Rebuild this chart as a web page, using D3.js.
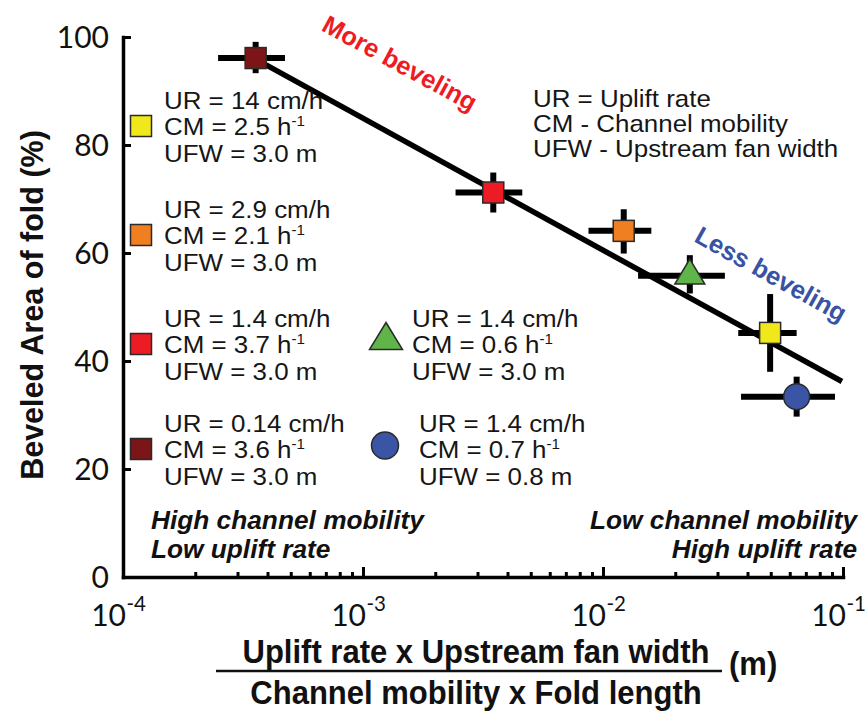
<!DOCTYPE html>
<html>
<head>
<meta charset="utf-8">
<script src="https://cdn.jsdelivr.net/npm/d3@7"></script>
<style>
  html, body { margin: 0; padding: 0; background: #ffffff; }
  svg { display: block; }
</style>
</head>
<body>
<svg id="chart" width="866" height="711"></svg>
<script>
// Beveled area of the fold against (uplift rate x fan width) / (channel mobility x fold length)

// One experiment per entry, ordered along the x axis
const ratio       = [3.57e-4, 3.49e-3, 1.22e-2, 2.30e-2, 4.97e-2, 6.41e-2];
const ratioLow    = [2.49e-4, 2.43e-3, 8.70e-3, 1.40e-2, 3.66e-2, 3.76e-2];
const ratioHigh   = [4.73e-4, 4.61e-3, 1.59e-2, 3.22e-2, 6.41e-2, 9.26e-2];
const beveled     = [96.1, 71.2, 64.1, 55.8, 45.2, 33.4];
const beveledLow  = [93.3, 67.5, 59.9, 52.5, 38.0, 29.7];
const beveledHigh = [99.1, 74.9, 68.1, 59.6, 52.4, 37.1];
const runColors   = ["#7b1517", "#ed1c24", "#f07f22", "#5fb548", "#f1e81c", "#3b55a6"];
const runShapes   = ["square", "square", "square", "triangle", "square", "circle"];

// Best-fit line end points
const fitRatio   = [3.6e-4, 0.099];
const fitBeveled = [95.8, 36.2];

// Axis ticks
const yTicks     = [0, 20, 40, 60, 80, 100];
const xDecades   = [1e-4, 1e-3, 1e-2, 1e-1];
const xDecadeExp = ["-4", "-3", "-2", "-1"];

// Key entries
const legendUR     = ["UR = 14 cm/h", "UR = 2.9 cm/h", "UR = 1.4 cm/h", "UR = 0.14 cm/h", "UR = 1.4 cm/h", "UR = 1.4 cm/h"];
const legendCM     = ["CM = 2.5 h", "CM = 2.1 h", "CM = 3.7 h", "CM = 3.6 h", "CM = 0.6 h", "CM = 0.7 h"];
const legendUFW    = ["UFW = 3.0 m", "UFW = 3.0 m", "UFW = 3.0 m", "UFW = 3.0 m", "UFW = 3.0 m", "UFW = 0.8 m"];
const legendColors = ["#f1e81c", "#f07f22", "#ed1c24", "#7b1517", "#5fb548", "#3b55a6"];
const legendShapes = ["square", "square", "square", "square", "triangle", "circle"];

const abbreviations = ["UR = Uplift rate", "CM - Channel mobility", "UFW - Upstream fan width"];
const leftNotes  = ["High channel mobility", "Low uplift rate"];
const rightNotes = ["Low channel mobility", "High uplift rate"];

// ---------------------------------------------------------------------------
const svg = d3.select("#chart");
const SANS = "'Liberation Sans', Arial, Helvetica, sans-serif";
const TICKFONT = "Lato, 'Open Sans', sans-serif";

const x = d3.scaleLog().domain([1e-4, 1e-1]).range([123, 843]);
const y = d3.scaleLinear().domain([0, 100]).range([577, 37]);

function label(g, px, py, str, o) {
  o = o || {};
  const t = g.append("text")
    .attr("transform", `translate(${px},${py}) scale(${o.sx || 1},1)`)
    .attr("font-family", o.family || SANS)
    .attr("font-size", o.size || 24)
    .attr("font-weight", o.weight || "normal")
    .attr("font-style", o.style || "normal")
    .attr("text-anchor", o.anchor || "start")
    .attr("fill", o.fill || "#111");
  t.text(str);
  return t;
}

// several lines in one text element
function block(g, px, py, lines, gap, o) {
  const t = label(g, px, py, null, o);
  lines.forEach((s, i) => {
    t.append("tspan").attr("x", 0).attr("dy", i === 0 ? 0 : gap).text(s);
  });
  return t;
}

function drawMarker(g, shape, color, cx, cy, big) {
  if (shape === "square") {
    const s = 21;
    g.append("rect").attr("x", cx - s / 2).attr("y", cy - s / 2)
      .attr("width", s).attr("height", s)
      .attr("fill", color).attr("stroke", "#2a2a2a").attr("stroke-width", 1.5);
  } else if (shape === "triangle") {
    const w = big ? 33 : 30, h = big ? 27 : 25;
    g.append("path").attr("d", `M0,${-2 * h / 3}L${w / 2},${h / 3}L${-w / 2},${h / 3}Z`)
      .attr("transform", `translate(${cx},${cy})`)
      .attr("fill", color).attr("stroke", "#2a2a2a").attr("stroke-width", 1.5);
  } else {
    g.append("circle").attr("cx", cx).attr("cy", cy).attr("r", big ? 13.5 : 13)
      .attr("fill", color).attr("stroke", "#2a2a2a").attr("stroke-width", 1.5);
  }
}

// ---------------- axes ----------------
const axes = svg.append("g");

const yAxis = d3.axisLeft(y).tickValues(yTicks).tickSizeInner(-8).tickSizeOuter(0).tickFormat("");
axes.append("g").attr("transform", `translate(${x.range()[0]},0)`).call(yAxis);

const minorTicks = [];
xDecades.slice(0, -1).forEach(d => { for (let k = 2; k <= 9; k++) minorTicks.push(d * k); });
const xMinor = d3.axisBottom(x).tickValues(minorTicks).tickSizeInner(-5).tickSizeOuter(0).tickFormat("");
const xMajor = d3.axisBottom(x).tickValues(xDecades).tickSizeInner(-10).tickSizeOuter(0).tickFormat("");
const gxm = axes.append("g").attr("transform", `translate(0,${y(0)})`).call(xMinor);
axes.append("g").attr("transform", `translate(0,${y(0)})`).call(xMajor);
gxm.select(".domain").remove();

axes.selectAll(".domain").attr("stroke", "#000").attr("stroke-width", 3.5).attr("stroke-linecap", "square");
axes.selectAll(".tick line").attr("stroke", "#000").attr("stroke-width", 3);

// y tick labels
yTicks.forEach(v => {
  label(axes, 109, y(v) + 10.5, String(v), { family: TICKFONT, size: 30, anchor: "end", fill: "#111" });
});

// x tick labels: 10 with superscript exponent
xDecades.forEach((d, i) => {
  label(axes, x(d) + 3, 626, "10", { family: TICKFONT, size: 30, anchor: "end", fill: "#111" });
  label(axes, x(d) + 3.5, 611, xDecadeExp[i], { family: TICKFONT, size: 20.5, anchor: "start", fill: "#111" });
});

// y axis title
svg.append("text")
  .attr("transform", "translate(43,305) rotate(-90)")
  .attr("text-anchor", "middle")
  .attr("font-family", SANS).attr("font-weight", "bold").attr("font-size", 30.5)
  .attr("fill", "#111")
  .text("Beveled Area of fold (%)");

// x axis title as a fraction
const xt = svg.append("g");
label(xt, 476, 663, "Uplift rate x Upstream fan width", { size: 33, weight: "bold", anchor: "middle", sx: 0.94 });
xt.append("line").attr("x1", 216).attr("x2", 722).attr("y1", 671).attr("y2", 671)
  .attr("stroke", "#111").attr("stroke-width", 2.5);
label(xt, 476, 704, "Channel mobility x Fold length", { size: 33, weight: "bold", anchor: "middle", sx: 0.94 });
label(xt, 729, 675, "(m)", { size: 33, weight: "bold", anchor: "start", sx: 0.94 });

// ---------------- data ----------------
const plot = svg.append("g");

plot.append("path")
  .datum(fitRatio.map((r, i) => [r, fitBeveled[i]]))
  .attr("d", d3.line().x(d => x(d[0])).y(d => y(d[1])))
  .attr("stroke", "#000").attr("stroke-width", 5.5).attr("fill", "none");

const bars = plot.append("g");
ratio.forEach((r, i) => {
  bars.append("line")
    .attr("x1", x(ratioLow[i])).attr("x2", x(ratioHigh[i]))
    .attr("y1", y(beveled[i])).attr("y2", y(beveled[i]))
    .attr("stroke", "#000").attr("stroke-width", 6);
  bars.append("line")
    .attr("x1", x(r)).attr("x2", x(r))
    .attr("y1", y(beveledLow[i])).attr("y2", y(beveledHigh[i]))
    .attr("stroke", "#000").attr("stroke-width", 6);
});

const marks = plot.append("g");
ratio.forEach((r, i) => drawMarker(marks, runShapes[i], runColors[i], x(r), y(beveled[i]), false));

// ---------------- key ----------------
const key = svg.append("g");
const rowBase = [109, 218, 327, 432];
const keyRow = [0, 1, 2, 3, 2, 3];
const keyTextX = [164, 164, 164, 164, 412, 419];
const keyMarkX = [141, 141, 141, 141, 386, 385];
const lineGap = 26.5;

legendUR.forEach((ur, i) => {
  const base = rowBase[keyRow[i]];
  const t = label(key, keyTextX[i], base, null, { size: 24, sx: 1.08, fill: "#161616" });
  t.append("tspan").attr("x", 0).attr("dy", 0).text(ur);
  t.append("tspan").attr("x", 0).attr("dy", lineGap).text(legendCM[i]);
  t.append("tspan").attr("dy", -9).attr("font-size", 14).text("-1");
  t.append("tspan").attr("x", 0).attr("dy", lineGap + 9).text(legendUFW[i]);
  const off = legendShapes[i] === "square" ? 17 : 13.5;
  drawMarker(key, legendShapes[i], legendColors[i], keyMarkX[i], base + off, true);
});

block(key, 533, 107, abbreviations, 24.8, { size: 24, sx: 1.08, fill: "#161616" });

// ---------------- notes ----------------
const notes = svg.append("g");
const noteStyle = { size: 25.5, weight: "bold", style: "italic", sx: 1.03 };
block(notes, 151, 529, leftNotes, 29, noteStyle);
const rn = label(notes, 857, 529, null, Object.assign({ anchor: "end" }, noteStyle));
rightNotes.forEach((s, i) => rn.append("tspan").attr("x", 0).attr("dy", i === 0 ? 0 : 29).text(s));

svg.append("text")
  .attr("transform", "translate(400,63) rotate(28.5)")
  .attr("text-anchor", "middle").attr("dominant-baseline", "central")
  .attr("font-family", SANS).attr("font-weight", "bold").attr("font-size", 25.5)
  .attr("fill", "#ed1c24")
  .text("More beveling");

svg.append("text")
  .attr("transform", "translate(771,274) rotate(29)")
  .attr("text-anchor", "middle").attr("dominant-baseline", "central")
  .attr("font-family", SANS).attr("font-weight", "bold").attr("font-size", 25.5)
  .attr("fill", "#3953a4")
  .text("Less beveling");
</script>
</body>
</html>
